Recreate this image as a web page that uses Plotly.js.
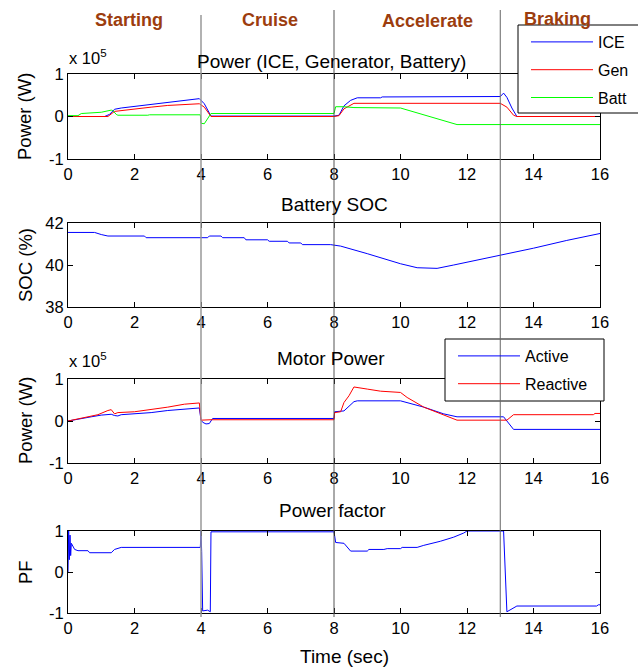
<!DOCTYPE html>
<html>
<head>
<meta charset="utf-8">
<script src="https://cdn.plot.ly/plotly-3.0.1.min.js"></script>
<style>html,body{margin:0;padding:0;background:#fff;}#chart{width:638px;height:667px;}</style>
</head>
<body>
<div id="chart"></div>
<script>
// ---------- DATA ----------
// Panel 1: Power (ICE, Generator, Battery), units of 1e5 W
var iceT = [0, 1.1, 1.25, 1.4, 1.6, 2.0, 2.4, 2.8, 3.2, 3.6, 3.8, 3.95, 4.1, 4.3, 8.0, 8.15, 8.3, 8.5, 8.7, 9.4, 9.45, 11.0, 11.05, 13.0, 13.1, 13.2, 13.35, 13.5, 16];
var iceV = [0, 0, 0.05, 0.17, 0.2, 0.24, 0.28, 0.32, 0.35, 0.4, 0.42, 0.42, 0.3, 0.01, 0.01, 0.03, 0.25, 0.38, 0.44, 0.44, 0.46, 0.46, 0.47, 0.47, 0.55, 0.45, 0.2, 0.0, 0];
var genT = [0, 1.2, 1.4, 1.6, 2.0, 2.5, 3.0, 3.5, 3.95, 4.1, 4.3, 8.0, 8.15, 8.3, 8.6, 13.0, 13.2, 13.4, 13.5, 16];
var genV = [0, 0, 0.12, 0.14, 0.18, 0.22, 0.26, 0.29, 0.3, 0.22, 0, 0, 0.02, 0.18, 0.31, 0.31, 0.22, 0.03, 0, 0];
var battT = [0, 0.3, 0.4, 1.0, 1.3, 1.35, 1.45, 1.5, 2.4, 2.45, 3.98, 4.0, 4.1, 4.3, 8.0, 8.05, 8.3, 8.6, 10.0, 11.7, 16];
var battV = [0.02, 0.02, 0.07, 0.1, 0.15, 0.14, 0.05, 0.03, 0.03, 0.04, 0.04, -0.16, -0.17, 0.07, 0.07, 0.23, 0.23, 0.21, 0.2, -0.19, -0.19];

// Panel 2: Battery SOC (%)
var socT = [0, 0.8, 1.0, 1.2, 2.3, 2.35, 4.2, 4.25, 4.6, 4.65, 5.3, 5.35, 6.0, 6.05, 6.6, 6.65, 7.0, 7.05, 7.9, 8.2, 9.0, 10.0, 10.5, 11.1, 11.6, 12.0, 13.0, 14.0, 15.0, 16.0];
var socV = [41.55, 41.55, 41.45, 41.38, 41.38, 41.3, 41.3, 41.38, 41.38, 41.3, 41.3, 41.2, 41.2, 41.13, 41.13, 41.05, 41.05, 40.97, 40.97, 40.9, 40.54, 40.06, 39.87, 39.84, 40.0, 40.13, 40.44, 40.8, 41.17, 41.5];

// Panel 3: Motor Power, units of 1e5 W
var actT = [0, 0.3, 0.7, 1.0, 1.3, 1.4, 1.5, 1.6, 2.0, 2.5, 3.0, 3.6, 3.95, 4.0, 4.05, 4.15, 4.25, 4.35, 8.0, 8.02, 8.3, 8.6, 8.7, 10.0, 10.3, 10.7, 11.3, 11.7, 13.1, 13.4, 16];
var actV = [0, 0.05, 0.1, 0.14, 0.16, 0.13, 0.12, 0.15, 0.17, 0.2, 0.25, 0.29, 0.31, 0.02, -0.03, -0.07, -0.06, 0.06, 0.06, 0.22, 0.24, 0.46, 0.48, 0.48, 0.42, 0.33, 0.17, 0.1, 0.1, -0.2, -0.2];
var reaT = [0, 0.5, 0.9, 1.2, 1.3, 1.4, 1.5, 2.0, 2.6, 3.0, 3.5, 3.95, 4.0, 4.3, 8.0, 8.02, 8.2, 8.3, 8.45, 8.6, 9.0, 9.4, 10.0, 10.2, 10.7, 11.3, 11.7, 13.2, 13.4, 15.8, 15.85, 16];
var reaV = [0, 0.08, 0.15, 0.25, 0.27, 0.17, 0.2, 0.22, 0.28, 0.33, 0.4, 0.43, 0.02, 0.03, 0.03, 0.2, 0.22, 0.44, 0.6, 0.81, 0.76, 0.71, 0.68, 0.56, 0.33, 0.14, 0.02, 0.02, 0.15, 0.15, 0.18, 0.18];

// Panel 4: Power factor
var pfT = [0, 0.02, 0.04, 0.06, 0.08, 0.1, 0.2, 0.3, 0.6, 0.65, 1.3, 1.4, 1.6, 3.98, 4.0, 4.02, 4.05, 4.2, 4.28, 4.3, 8.0, 8.05, 8.3, 8.5, 9.0, 9.05, 9.5, 9.6, 10.0, 10.05, 10.5, 10.7, 11.2, 11.6, 11.9, 12.0, 13.1, 13.2, 13.5, 15.9, 15.95, 16];
var pfV = [0, 1.0, 0.3, 0.9, 0.4, 0.7, 0.55, 0.52, 0.52, 0.47, 0.47, 0.55, 0.6, 0.6, 1.0, 0.5, -0.95, -0.93, -0.97, 0.98, 0.98, 0.72, 0.7, 0.51, 0.51, 0.55, 0.55, 0.57, 0.57, 0.6, 0.6, 0.65, 0.75, 0.85, 0.95, 1.0, 1.0, -0.97, -0.83, -0.83, -0.8, -0.8];

// Phase markers and labels
var phaseLines = [4, 8, 13];
var phaseNames = ["Starting", "Cruise", "Accelerate", "Braking"];
var xTicks = [0, 2, 4, 6, 8, 10, 12, 14, 16];
var pmTicks = [-1, 0, 1];
var pmTickText = ["-1", "0", "1"];
var socTicks = [38, 40, 42];
var socTickText = ["38", "40", "42"];

// ---------- LAYOUT ----------
var W = 638, H = 667;
function px(x) { return x / W; }
function py(y) { return 1 - y / H; }
var FONT = "Liberation Sans, Arial, Helvetica, sans-serif";
var xDom = [px(68), px(600)];

function xAxis(anchor) {
  return {
    domain: xDom, range: [0, 16], anchor: anchor,
    tickvals: xTicks, ticks: "inside", ticklen: 5, tickcolor: "#000",
    showline: true, linecolor: "#000", linewidth: 1, mirror: "ticks",
    showgrid: false, zeroline: false,
    tickfont: {family: FONT, size: 16.5, color: "#000"}
  };
}
function yAxis(anchor, dom, range, tv, tt) {
  return {
    domain: dom, range: range, anchor: anchor,
    tickvals: tv, ticktext: tt, ticks: "inside", ticklen: 5, tickcolor: "#000",
    showline: true, linecolor: "#000", linewidth: 1, mirror: "ticks",
    showgrid: false, zeroline: false,
    tickfont: {family: FONT, size: 16.5, color: "#000"}
  };
}

var traces = [
  {x: iceT, y: iceV, name: "ICE", xaxis: "x", yaxis: "y", mode: "lines", line: {color: "#0000FF", width: 1}, legend: "legend", legendgroup: "a"},
  {x: genT, y: genV, name: "Gen", xaxis: "x", yaxis: "y", mode: "lines", line: {color: "#FF0000", width: 1}, legend: "legend", legendgroup: "b"},
  {x: battT, y: battV, name: "Batt", xaxis: "x", yaxis: "y", mode: "lines", line: {color: "#00FF00", width: 1}, legend: "legend", legendgroup: "c"},
  {x: socT, y: socV, name: "SOC", xaxis: "x2", yaxis: "y2", mode: "lines", line: {color: "#0000FF", width: 1}, showlegend: false},
  {x: actT, y: actV, name: "Active", xaxis: "x3", yaxis: "y3", mode: "lines", line: {color: "#0000FF", width: 1}, legend: "legend2", legendgroup: "d"},
  {x: reaT, y: reaV, name: "Reactive", xaxis: "x3", yaxis: "y3", mode: "lines", line: {color: "#FF0000", width: 1}, legend: "legend2", legendgroup: "e"},
  {x: pfT, y: pfV, name: "PF", xaxis: "x4", yaxis: "y4", mode: "lines", line: {color: "#0000FF", width: 1}, showlegend: false}
];

var shapes = [
  {type: "rect", xref: "paper", yref: "paper", x0: px(518), x1: px(660), y0: py(113), y1: py(25), fillcolor: "#fff", line: {color: "#000", width: 1}, layer: "above"},
  {type: "rect", xref: "paper", yref: "paper", x0: px(445), x1: px(604), y0: py(401), y1: py(339), fillcolor: "#fff", line: {color: "#000", width: 1}, layer: "above"}
];
var lineStyles = [
  {top: 15, color: "#999", width: 1.5},
  {top: 10, color: "#555", width: 1},
  {top: 10, color: "#666", width: 1}
];
phaseLines.forEach(function (t, i) {
  shapes.push({type: "line", xref: "x", yref: "paper", x0: t, x1: t, y0: py(617), y1: py(lineStyles[i].top),
    line: {color: lineStyles[i].color, width: lineStyles[i].width}, layer: "above"});
});

var headerPos = [[129, 20], [270, 20], [427, 21], [557, 19]];
var annotations = [];
phaseNames.forEach(function (n, i) {
  annotations.push({text: "<b>" + n + "</b>", xref: "paper", yref: "paper", x: px(headerPos[i][0]), y: py(headerPos[i][1]),
    showarrow: false, xanchor: "center", yanchor: "middle", font: {family: FONT, size: 18, color: "#9C3D0E"}});
});
var titles = [
  ["Power (ICE, Generator, Battery)", 331, 61],
  ["Battery SOC", 334, 204],
  ["Motor Power", 331, 358],
  ["Power factor", 332, 510],
  ["Time (sec)", 344, 656]
];
titles.forEach(function (t) {
  annotations.push({text: t[0], xref: "paper", yref: "paper", x: px(t[1]), y: py(t[2]), showarrow: false,
    xanchor: "center", yanchor: "middle", font: {family: FONT, size: 19, color: "#000"}});
});
var ylabels = [["Power (W)", 117], ["SOC (%)", 265], ["Power (W)", 421], ["PF", 572]];
ylabels.forEach(function (t) {
  annotations.push({text: t[0], xref: "paper", yref: "paper", x: px(25), y: py(t[1]), showarrow: false, textangle: -90,
    xanchor: "center", yanchor: "middle", font: {family: FONT, size: 18.5, color: "#000"}});
});
[61, 364].forEach(function (y) {
  annotations.push({text: "x 10<sup>5</sup>", xref: "paper", yref: "paper", x: px(67), y: py(y - 4), showarrow: false,
    xanchor: "left", yanchor: "middle", font: {family: FONT, size: 16.5, color: "#000"}});
});

var layout = {
  width: W, height: H,
  margin: {l: 0, r: 0, t: 0, b: 0},
  paper_bgcolor: "#fff", plot_bgcolor: "#fff",
  showlegend: true,
  xaxis: xAxis("y"), xaxis2: xAxis("y2"), xaxis3: xAxis("y3"), xaxis4: xAxis("y4"),
  yaxis: yAxis("x", [py(159), py(74)], [-1, 1], pmTicks, pmTickText),
  yaxis2: yAxis("x2", [py(307), py(223)], [38, 42], socTicks, socTickText),
  yaxis3: yAxis("x3", [py(463), py(379)], [-1, 1], pmTicks, pmTickText),
  yaxis4: yAxis("x4", [py(613), py(531)], [-1, 1], pmTicks, pmTickText),
  legend: {x: px(526), y: py(25), xanchor: "left", yanchor: "top", bgcolor: "rgba(0,0,0,0)", borderwidth: 0,
    font: {family: FONT, size: 16, color: "#000"}, itemwidth: 62, tracegroupgap: 4, traceorder: "grouped"},
  legend2: {x: px(453), y: py(339), xanchor: "left", yanchor: "top", bgcolor: "rgba(0,0,0,0)", borderwidth: 0,
    font: {family: FONT, size: 16, color: "#000"}, itemwidth: 62, tracegroupgap: 4, traceorder: "grouped"},
  shapes: shapes,
  annotations: annotations
};

Plotly.newPlot("chart", traces, layout, {displayModeBar: false, staticPlot: true});
</script>
</body>
</html>
